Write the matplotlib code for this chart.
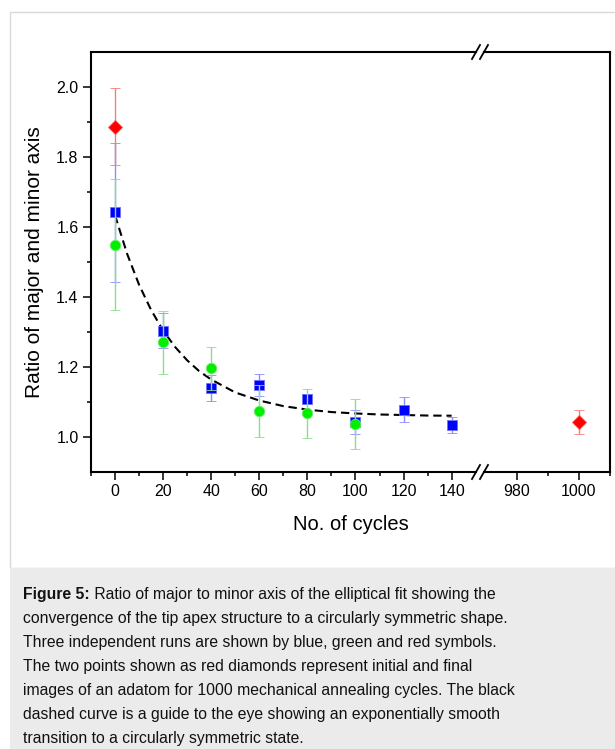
import matplotlib
matplotlib.use("Agg")
import matplotlib.pyplot as plt
from matplotlib.lines import Line2D
from matplotlib.patches import Rectangle
from matplotlib.ticker import FixedLocator

plt.rcParams['font.family'] = ['Liberation Sans', 'DejaVu Sans']
plt.rcParams['lines.scale_dashes'] = False

# ---------------- data ----------------
cycles_blue = [0, 20, 40, 60, 80, 100, 120, 140]
ratio_blue = [1.641, 1.302, 1.140, 1.147, 1.107, 1.041, 1.077, 1.033]
err_blue = [0.200, 0.050, 0.037, 0.031, 0.015, 0.035, 0.035, 0.022]

cycles_green = [0, 20, 40, 60, 80, 100]
ratio_green = [1.549, 1.270, 1.195, 1.073, 1.066, 1.035]
err_green = [0.187, 0.090, 0.062, 0.075, 0.070, 0.071]

cycles_red = [0, 1000]
ratio_red = [1.886, 1.041]
err_red = [0.110, 0.035]

guide_x = [0, 5, 10, 15, 20, 25, 30, 35, 40, 50, 60, 70, 80, 90, 100, 110, 120, 130, 140]
guide_y = [1.633, 1.523, 1.434, 1.362, 1.303, 1.256, 1.218, 1.187, 1.163, 1.126,
           1.103, 1.087, 1.077, 1.070, 1.066, 1.063, 1.0615, 1.060, 1.0595]

y_ticks = [1.0, 1.2, 1.4, 1.6, 1.8, 2.0]
x_ticks_left = [0, 20, 40, 60, 80, 100, 120, 140]
x_ticks_right = [980, 1000]

caption_bold = "Figure 5:"
caption_lines = [
    " Ratio of major to minor axis of the elliptical fit showing the",
    "convergence of the tip apex structure to a circularly symmetric shape.",
    "Three independent runs are shown by blue, green and red symbols.",
    "The two points shown as red diamonds represent initial and final",
    "images of an adatom for 1000 mechanical annealing cycles. The black",
    "dashed curve is a guide to the eye showing an exponentially smooth",
    "transition to a circularly symmetric state.",
]

# ---------------- figure ----------------
W, H = 615, 749
fig = plt.figure(figsize=(W / 100, H / 100), dpi=100)
fig.patch.set_facecolor('white')

def fx(px):
    return px / W

def fy(py):
    return 1 - py / H

# white panel with light border and grey caption box
fig.patches.append(Rectangle((fx(10), fy(568)), 1.0, fy(12) - fy(568),
                             transform=fig.transFigure, facecolor='white',
                             edgecolor='#d9d9d9', linewidth=1.0, zorder=-10))
fig.patches.append(Rectangle((fx(10), 0), 1.0, fy(568),
                             transform=fig.transFigure, facecolor='#ebebeb',
                             edgecolor='none', zorder=-10))

ax_top, ax_bot = 52, 472
left_l, left_r = 91, 476
right_l, right_r = 484, 610

axL = fig.add_axes([fx(left_l), fy(ax_bot), fx(left_r - left_l), (ax_bot - ax_top) / H],
                   zorder=2)
axR = fig.add_axes([fx(right_l), fy(ax_bot), fx(right_r - right_l), (ax_bot - ax_top) / H],
                   sharey=axL, zorder=2)

ylim = (0.8985, 2.100)

def draw(ax):
    ax.set_facecolor('none')
    ax.plot(guide_x, guide_y, color='black', lw=1.5, dashes=(6, 3.5), zorder=2)
    ax.errorbar(cycles_blue, ratio_blue, yerr=err_blue, fmt='s', color='#0000ff',
                ms=6.5, mec='#7070ff', mew=0.6, ecolor='#8c8cff', elinewidth=1.0,
                capsize=3.6, capthick=1.0, zorder=3)
    ax.errorbar(cycles_green, ratio_green, yerr=err_green, fmt='o', color='#00ee00',
                ms=7.5, mec='#66ee66', mew=0.6, ecolor='#88e088', elinewidth=1.0,
                capsize=3.6, capthick=1.0, zorder=4)
    ax.errorbar(cycles_red, ratio_red, yerr=err_red, fmt='D', color='#ff0000',
                ms=7.0, mec='#ff5050', mew=0.6, ecolor='#f08080', elinewidth=1.0,
                capsize=3.6, capthick=1.0, zorder=5)
    ax.set_ylim(*ylim)
    for s in ax.spines.values():
        s.set_linewidth(1.5)
    ax.tick_params(axis='both', which='major', direction='out', length=6, width=1.1,
                   labelsize=11.5, pad=3, color='black')
    ax.tick_params(axis='both', which='minor', direction='out', length=3.2, width=1.1)

draw(axL)
draw(axR)

axL.set_xlim(-10, (left_r - 115) / 2.4045)
axL.spines['right'].set_visible(False)
axL.xaxis.set_major_locator(FixedLocator(x_ticks_left))
axL.xaxis.set_minor_locator(FixedLocator([-10, 10, 30, 50, 70, 90, 110, 130]))
axL.yaxis.set_major_locator(FixedLocator(y_ticks))
axL.yaxis.set_minor_locator(FixedLocator([1.1, 1.3, 1.5, 1.7, 1.9]))
axL.set_yticklabels([f"{v:.1f}" for v in y_ticks])

axR.set_xlim(980 - (517 - right_l) / 3.1, 1010)
axR.spines['left'].set_visible(False)
axR.xaxis.set_major_locator(FixedLocator(x_ticks_right))
axR.xaxis.set_minor_locator(FixedLocator([990, 1010]))
axR.tick_params(axis='y', which='both', left=False, right=False, labelleft=False)

# break marks
for xc in (left_r, right_l):
    for yc in (ax_bot, ax_top):
        fig.add_artist(Line2D([fx(xc - 4), fx(xc + 4)], [fy(yc + 7), fy(yc - 7)],
                              transform=fig.transFigure, color='black', lw=1.3,
                              zorder=5))

# axis labels
fig.text(fx(351), fy(524), "No. of cycles", ha='center', va='center', fontsize=14.5)
fig.text(fx(35), fy(262), "Ratio of major and minor axis", ha='center', va='center',
         rotation=90, fontsize=15)

# caption
cap_fs = 11.3
x0 = fx(23)
baselines = [599, 623, 647, 671, 695, 719, 743]
tb = fig.text(x0, fy(baselines[0]), caption_bold, fontsize=cap_fs, weight='bold',
              va='baseline', ha='left', color='#111111')
fig.canvas.draw()
bb = tb.get_window_extent()
fig.text(bb.x1 / W, fy(baselines[0]), caption_lines[0], fontsize=cap_fs,
         va='baseline', ha='left', color='#111111')
for line, b in zip(caption_lines[1:], baselines[1:]):
    fig.text(x0, fy(b), line, fontsize=cap_fs, va='baseline', ha='left', color='#111111')

fig.savefig("out.png", dpi=100)
